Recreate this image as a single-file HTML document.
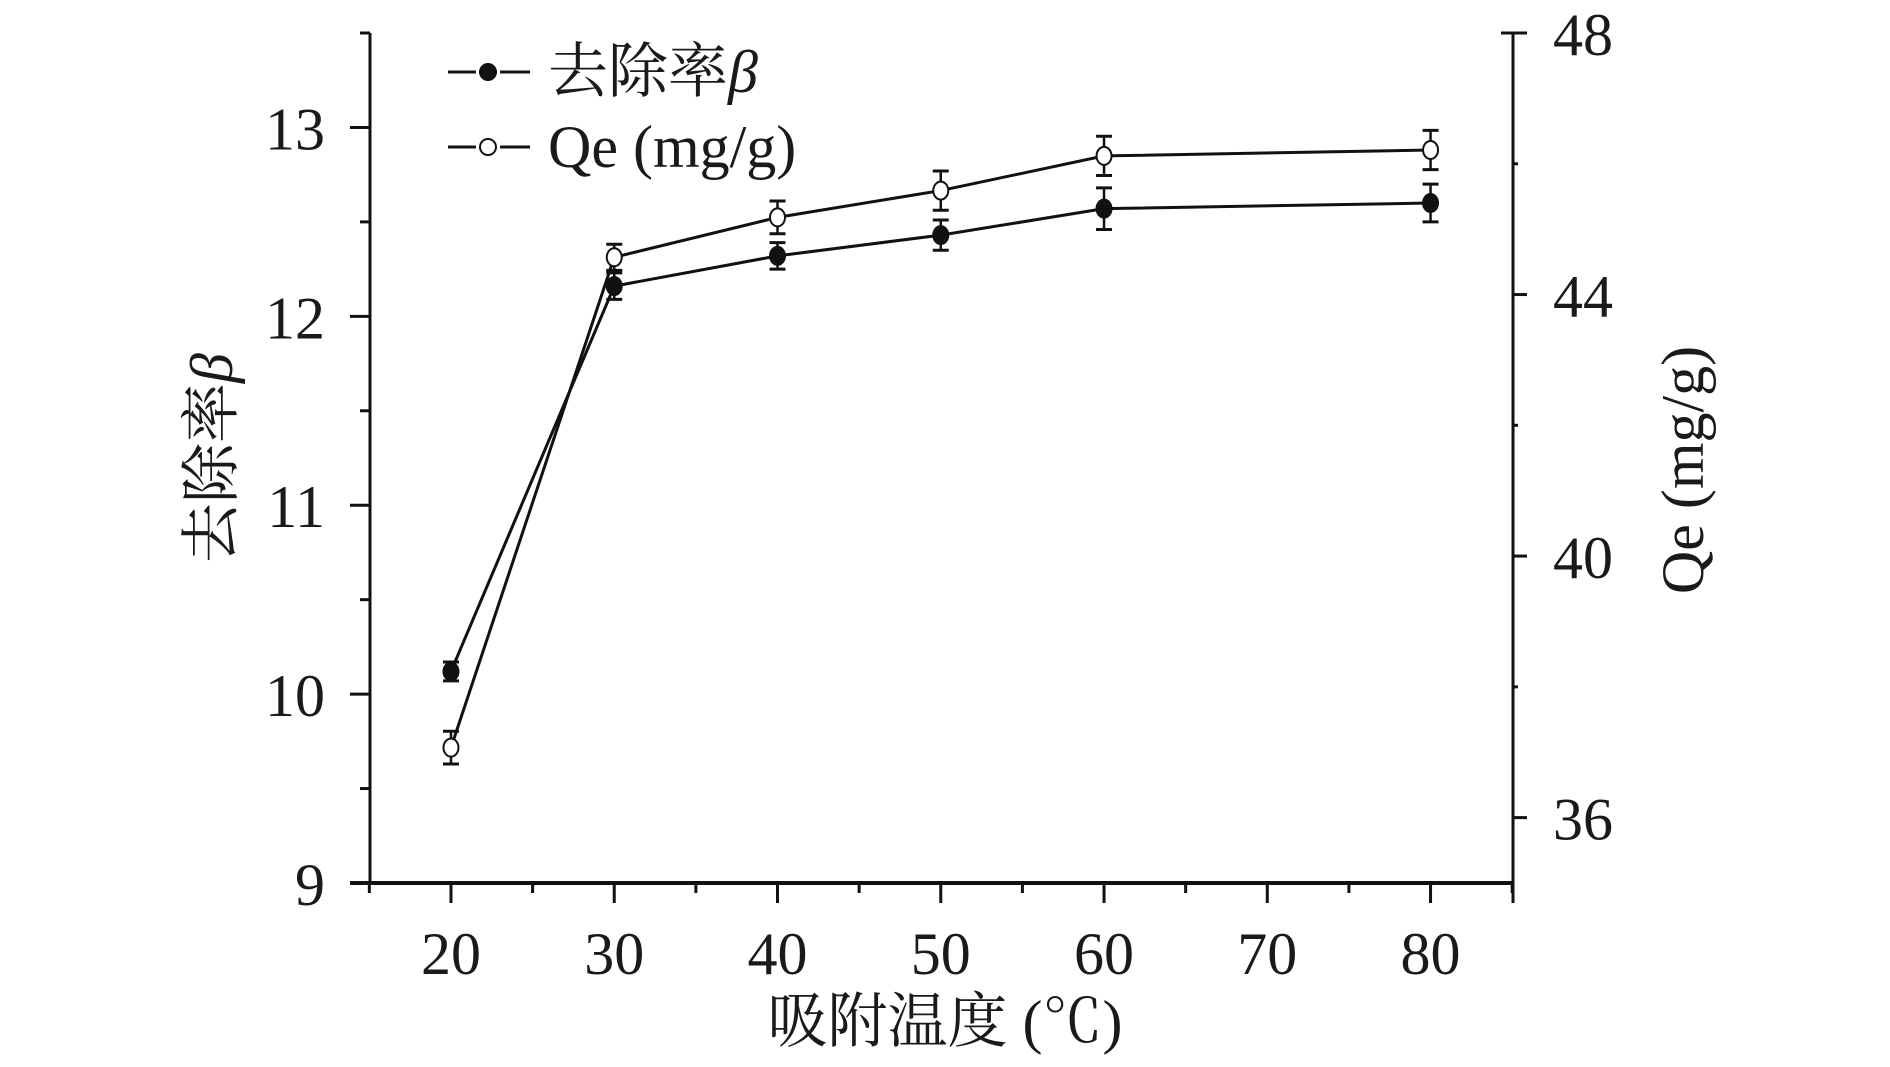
<!DOCTYPE html>
<html><head><meta charset="utf-8"><style>
html,body{margin:0;padding:0;background:#fff;}
svg{display:block;}
svg text{font-family:"Liberation Serif","Times New Roman","Noto Serif CJK SC",serif;fill:#1a1a1a;}
</style></head><body>
<svg id="chart" width="1890" height="1067" viewBox="0 0 1890 1067" xmlns="http://www.w3.org/2000/svg" font-family="Liberation Serif, Noto Serif CJK SC, serif">
<g id="axes"></g>
<g id="series"></g>
<g id="legend">
  <line x1="448" y1="72" x2="476" y2="72" stroke="#111" stroke-width="3"/>
  <line x1="500" y1="72" x2="530" y2="72" stroke="#111" stroke-width="3"/>
  <circle cx="488" cy="72" r="8" fill="#111" stroke="#111" stroke-width="2"/>
  <text x="548" y="92" font-size="60">去除率<tspan font-style="italic">β</tspan></text>
  <line x1="448" y1="147" x2="476" y2="147" stroke="#111" stroke-width="3"/>
  <line x1="500" y1="147" x2="530" y2="147" stroke="#111" stroke-width="3"/>
  <circle cx="488" cy="147" r="8" fill="#fff" stroke="#111" stroke-width="2"/>
  <text x="548" y="167" font-size="60">Qe (mg/g)</text>
</g>
<text x="945" y="1042" font-size="60" text-anchor="middle">吸附温度 (℃)</text>
<text transform="translate(232,458) rotate(-90)" font-size="60" text-anchor="middle">去除率<tspan font-style="italic">β</tspan></text>
<text transform="translate(1703,470) rotate(-90)" font-size="60" text-anchor="middle">Qe (mg/g)</text>
</svg>
<script>
const categories = [20, 30, 40, 50, 60, 80];
const removalValues = [10.12, 12.16, 12.32, 12.43, 12.57, 12.6];
const removalErrors = [0.05, 0.07, 0.07, 0.08, 0.11, 0.1];
const qeValues = [37.07, 44.57, 45.18, 45.59, 46.12, 46.21];
const qeErrors = [0.25, 0.2, 0.25, 0.3, 0.3, 0.3];
const xTicks = [20, 30, 40, 50, 60, 70, 80];
const leftTicks = [9, 10, 11, 12, 13];
const rightTicks = [36, 40, 44, 48];

const NS = 'http://www.w3.org/2000/svg';
const L = 370, R = 1513, T = 33, B = 883;
const X = v => L + (v - 15.04) / (85.05 - 15.04) * (R - L);
const YL = v => B - (v - 9) / (13.5 - 9) * (B - T);
const YR = v => B - (v - 35) / (48 - 35) * (B - T);
function mk(tag, attrs, parent) {
  const e = document.createElementNS(NS, tag);
  for (const k in attrs) e.setAttribute(k, attrs[k]);
  parent.appendChild(e);
  return e;
}
const ax = document.getElementById('axes');
const se = document.getElementById('series');
const sw = 3;
let e;
e = mk('line', {x1: L, y1: T, x2: L, y2: B + 1.5, stroke: '#111', 'stroke-width': sw}, ax);


e = mk('line', {x1: R, y1: T, x2: R, y2: B + 20, stroke: '#111', 'stroke-width': sw}, ax);


e = mk('line', {x1: L - 20, y1: B, x2: R + 1.5, y2: B, stroke: '#111', 'stroke-width': 4}, ax);


mk('line', {x1: R - 12, y1: T, x2: R, y2: T, stroke: '#111', 'stroke-width': sw}, ax);
for (let i = 0; i < xTicks.length; i++) {
  const v = xTicks[i], x = X(v);
  mk('line', {x1: x, y1: B, x2: x, y2: B + 20, stroke: '#111', 'stroke-width': sw}, ax);
  mk('line', {x1: X(v + 5), y1: B, x2: X(v + 5), y2: B + 10, stroke: '#111', 'stroke-width': sw}, ax);
  if (i === 0) mk('line', {x1: X(v - 5), y1: B, x2: X(v - 5), y2: B + 10, stroke: '#111', 'stroke-width': sw}, ax);
  const t = mk('text', {x: x, y: 974, 'font-size': 60, 'text-anchor': 'middle'}, ax);
  t.textContent = v;
  
  
}
for (const v of leftTicks) {
  const y = YL(v);
  mk('line', {x1: L - 20, y1: y, x2: L, y2: y, stroke: '#111', 'stroke-width': sw}, ax);
  if (v < 13.5) mk('line', {x1: L - 10, y1: YL(v + 0.5), x2: L, y2: YL(v + 0.5), stroke: '#111', 'stroke-width': sw}, ax);
  const t = mk('text', {x: 325, y: y + 22, 'font-size': 60, 'text-anchor': 'end'}, ax);
  t.textContent = v;
  
  
}
for (const v of rightTicks) {
  const y = YR(v);
  mk('line', {x1: R, y1: y, x2: R + 14, y2: y, stroke: '#111', 'stroke-width': sw}, ax);
  if (v < 48) mk('line', {x1: R, y1: YR(v + 2), x2: R + 5, y2: YR(v + 2), stroke: '#111', 'stroke-width': sw}, ax);
  const t = mk('text', {x: 1553, y: y + 22, 'font-size': 60}, ax);
  t.textContent = v;
  
  
}
function drawSeries(vals, errs, Y, filled, name) {
  const pts = categories.map((c, i) => X(c) + ',' + Y(vals[i])).join(' ');
  const pl = mk('polyline', {points: pts, fill: 'none', stroke: '#111', 'stroke-width': 3}, se);
  
  
  categories.forEach((c, i) => {
    const x = X(c), y1 = Y(vals[i] + errs[i]), y2 = Y(vals[i] - errs[i]);
    const g = mk('g', {}, se);
    
    
    mk('line', {x1: x, y1: y1, x2: x, y2: y2, stroke: '#111', 'stroke-width': 2.5}, g);
    mk('line', {x1: x - 8, y1: y1, x2: x + 8, y2: y1, stroke: '#111', 'stroke-width': 3}, g);
    mk('line', {x1: x - 8, y1: y2, x2: x + 8, y2: y2, stroke: '#111', 'stroke-width': 3}, g);
    const m = mk('ellipse', {cx: x, cy: Y(vals[i]), rx: 7.5, ry: 9, fill: filled ? '#111' : '#fff', stroke: '#111', 'stroke-width': 2}, se);
    
    
  });
}
drawSeries(removalValues, removalErrors, YL, true, 'removal');
drawSeries(qeValues, qeErrors, YR, false, 'qe');
</script>
</body></html>
